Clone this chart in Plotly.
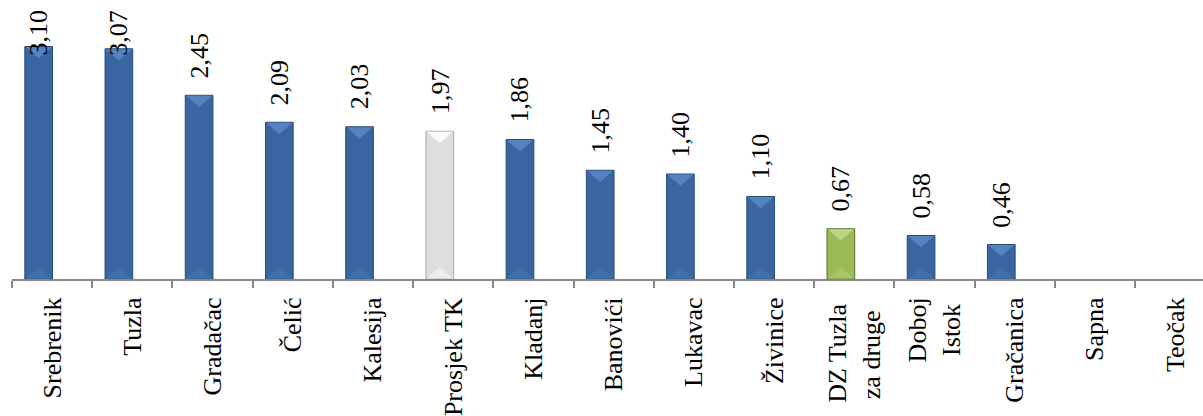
import plotly.graph_objects as go

categories = ["Srebrenik", "Tuzla", "Gradačac", "Čelić", "Kalesija", "Prosjek TK",
              "Kladanj", "Banovići", "Lukavac", "Živinice",
              "DZ Tuzla\u00a0<br>za druge\u00a0\u00a0",
              "Doboj<br>Istok\u00a0", "Gračanica", "Sapna", "Teočak"]
values = [3.10, 3.07, 2.45, 2.09, 2.03, 1.97, 1.86, 1.45, 1.40, 1.10, 0.67, 0.58, 0.46, None, None]
kinds = ["m", "m", "m", "m", "m", "avg", "m", "m", "m", "m", "dz", "m", "m", "m", "m"]

fill = {"m": "#3A66A0", "avg": "#DEDEDE", "dz": "#9BBB59"}
edge = {"m": "#274A78", "avg": "#A9A9A9", "dz": "#55702A"}
top_bevel = {"m": "#5583C0", "avg": "#FAFAFA", "dz": "#BAD482"}
bot_bevel = {"m": "#4270AB", "avg": "#EDEDED", "dz": "#A8C56A"}

FONT = "Times New Roman, Liberation Serif, serif"
BAR_W = 0.345
BAR_OFF = -0.34
PX_PER_UNIT = 75.8
PLOT_H = 282
LABEL_GAP = 0.2
LABEL_CAP = 2.95
BEVEL_PX = 12
X_RANGE = [-0.5, 14.347]

fig = go.Figure()
fig.add_trace(go.Bar(
    x=categories, y=values,
    width=BAR_W, offset=BAR_OFF,
    marker=dict(color=[fill[k] for k in kinds],
                line=dict(color=[edge[k] for k in kinds], width=1)),
    hoverinfo="x+y",
))

# bevel highlights derived from the bar values
bev = BEVEL_PX / PX_PER_UNIT
for i, (v, k) in enumerate(zip(values, kinds)):
    if v is None:
        continue
    xl = i + BAR_OFF + 0.012
    xr = i + BAR_OFF + BAR_W - 0.012
    xc = (xl + xr) / 2
    h = min(bev, v / 2.2)
    fig.add_trace(go.Scatter(
        x=[xl, xr, xc, xl], y=[v - 0.008, v - 0.008, v - h, v - 0.008],
        xaxis="x2", mode="lines", fill="toself", fillcolor=top_bevel[k],
        line=dict(width=0), hoverinfo="skip", showlegend=False,
    ))
    fig.add_trace(go.Scatter(
        x=[xl, xr, xc, xl], y=[0.008, 0.008, h, 0.008],
        xaxis="x2", mode="lines", fill="toself", fillcolor=bot_bevel[k],
        line=dict(width=0), hoverinfo="skip", showlegend=False,
    ))

annotations = []
for i, v in enumerate(values):
    if v is None:
        continue
    annotations.append(dict(
        x=i + BAR_OFF + BAR_W / 2, y=min(v + LABEL_GAP, LABEL_CAP),
        xref="x", yref="y", text=f"{v:.2f}".replace(".", ","),
        textangle=-90, showarrow=False, xanchor="center", yanchor="bottom",
        font=dict(family=FONT, size=26, color="#000000"),
    ))

fig.update_layout(
    width=1203, height=416,
    margin=dict(l=12, r=0, t=0, b=134),
    paper_bgcolor="white", plot_bgcolor="white",
    showlegend=False,
    annotations=annotations,
    xaxis=dict(
        type="category", range=X_RANGE,
        showline=True, linecolor="#878787", linewidth=2,
        ticks="outside", tickson="boundaries", ticklen=7, tickwidth=1.5, tickcolor="#878787",
        tickangle=-90, tickfont=dict(family=FONT, size=26, color="#000000"),
        showgrid=False, zeroline=False, ticklabelstandoff=6,
    ),
    xaxis2=dict(type="linear", range=X_RANGE, overlaying="x", visible=False),
    yaxis=dict(range=[0, PLOT_H / PX_PER_UNIT], visible=False, showgrid=False, zeroline=False),
)

fig.write_html("out.html", config={"displayModeBar": False},
               post_script="document.body.style.margin='0';document.body.style.overflow='hidden';")
